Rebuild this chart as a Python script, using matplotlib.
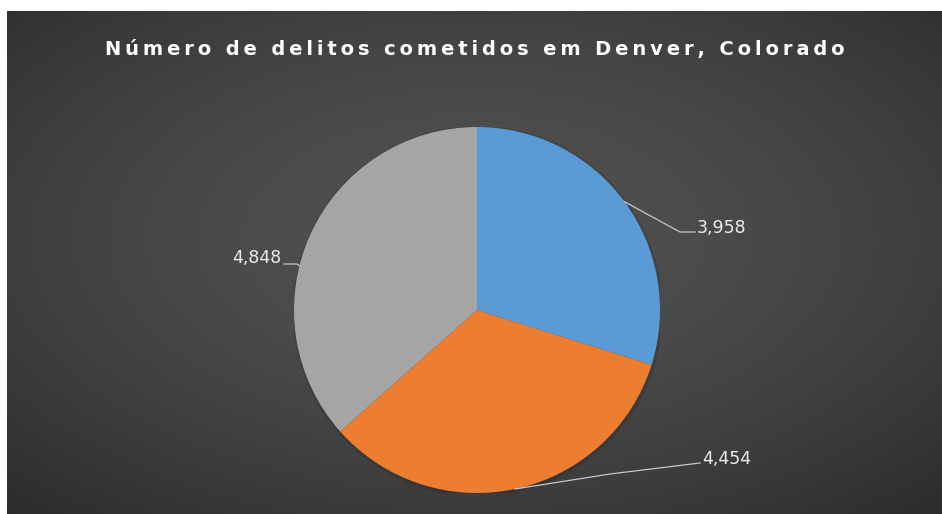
import numpy as np
import matplotlib
matplotlib.use("Agg")
import matplotlib.pyplot as plt
from matplotlib.patches import Circle

# Data
labels = ["3,958", "4,454", "4,848"]
values = [3958, 4454, 4848]
colors = ["#5B9BD5", "#ED7D31", "#A5A5A5"]
title = "Número de delitos cometidos em Denver, Colorado"

W, H = 942, 514
fig = plt.figure(figsize=(W / 100, H / 100), dpi=100)
fig.patch.set_facecolor("white")

# dark background with a soft radial glow (white strip top and left)
bg = fig.add_axes([7 / W, 0, 1 - 7 / W, 1 - 11 / H])
yy, xx = np.mgrid[0:1:300j, 0:1:500j]
r = np.sqrt(((xx - 0.5) / 0.75) ** 2 + ((yy - 0.55) / 0.75) ** 2)
r = np.clip(r, 0, 1)
shade = 0.32 - 0.15 * r ** 1.6
img = np.dstack([shade, shade, shade])
bg.imshow(img, aspect="auto", extent=[0, 1, 0, 1], origin="lower")
bg.set_axis_off()

# title with wide letter spacing (thin spaces between letters)
spaced = "\u2009".join(title)
fig.text(475 / W, 1 - 55 / H, spaced, color="white", fontsize=14,
         fontweight="bold", ha="center", va="baseline",
         family="DejaVu Sans")

# pie: centre (477, 310) px, radius 183 px
cx, cy, rad = 477, 310, 183
ax = fig.add_axes([(cx - rad) / W, (H - cy - rad) / H, 2 * rad / W, 2 * rad / H])
# faint rim shadow like the Excel style
ax.add_patch(Circle((0.004, -0.006), 1.012, color="black", alpha=0.12, lw=0, zorder=0))
wedges, _ = ax.pie(values, colors=colors, startangle=90, counterclock=False,
                   radius=1, wedgeprops=dict(linewidth=0))
ax.set_xlim(-1, 1)
ax.set_ylim(-1, 1)
ax.set_axis_off()


def to_data(px, py):
    return (px - cx) / rad, (cy - py) / rad


# label layout: (arc angle, elbow px, end px, text px, alignment)
total = sum(values)
angles = []
start = 90
for v in values:
    span = 360 * v / total
    angles.append(start - span / 2)
    start -= span
angles[2] = 166  # Excel nudged this label

layout = [
    ((680, 232), (695, 232), (697, 228), "left"),
    ((610, 474), (700, 463), (702, 459), "left"),
    ((297, 264), (284, 264), (281, 258), "right"),
]
for ang, lab, (elbow, end, txt, ha) in zip(angles, labels, layout):
    a = np.deg2rad(ang)
    p0 = (np.cos(a), np.sin(a))
    p1 = to_data(*elbow)
    p2 = to_data(*end)
    ax.plot([p0[0], p1[0], p2[0]], [p0[1], p1[1], p2[1]], color="#c8c8c8",
            lw=0.9, clip_on=False)
    tx, ty = to_data(*txt)
    ax.text(tx, ty, lab, color="#ececec", fontsize=12.5, ha=ha, va="center",
            family="DejaVu Sans")

fig.savefig("out.png", dpi=100, facecolor=fig.get_facecolor())
